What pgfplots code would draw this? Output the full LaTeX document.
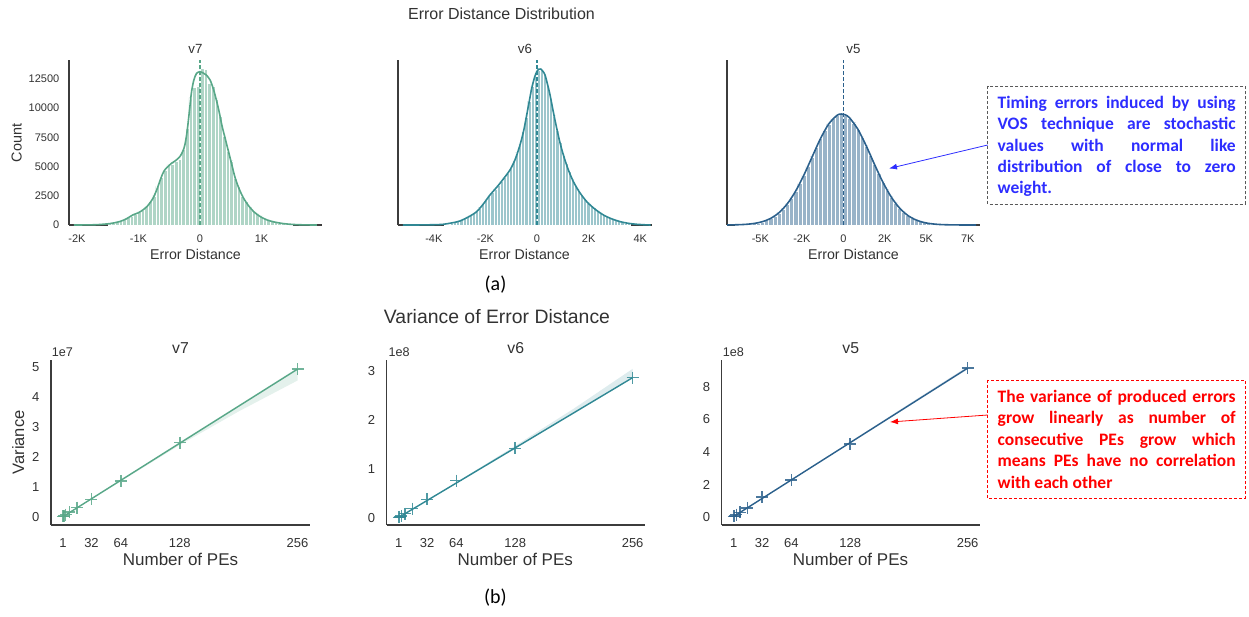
\documentclass[border=0pt]{standalone}
\usepackage{pgfplots}
\pgfplotsset{compat=1.18}
\usepackage{fontspec}
\setmainfont{Liberation Sans}
\newfontfamily\calibri{Carlito}
\usetikzlibrary{arrows.meta}
\definecolor{cSeven}{RGB}{88,167,136}
\definecolor{cSix}{RGB}{48,136,148}
\definecolor{cFive}{RGB}{43,96,140}
\definecolor{txt}{RGB}{50,50,50}
\definecolor{spine}{RGB}{60,60,60}
\definecolor{blueann}{RGB}{45,45,255}
\definecolor{redann}{RGB}{255,0,0}
\newcommand\fs[1]{\fontsize{#1}{#1}\selectfont}

\pgfplotsset{
  base/.style={
    scale only axis, anchor=south west, clip=false,
    axis lines*=left, axis line style={draw=spine, line width=1.4pt},
    tick style={draw=none}, major tick length=0pt,
    tick label style={text=txt, inner sep=0pt},
    scaled x ticks=false, scaled y ticks=false,
  },
  hist/.style={base, ymin=0, ymax=14124, height=165pt,
    xticklabel style={font=\fs{11}, anchor=north, yshift=-10pt},
    yticklabel style={font=\fs{11}, anchor=east, xshift=-9.5pt},
  },
  var/.style={base, height=165pt, xmin=-12, xmax=269.5,
    xtick={1,32,64,128,256}, xticklabels={1,32,64,128,256},
    xticklabel style={font=\fs{13}, anchor=north, yshift=-13pt},
    yticklabel style={font=\fs{13}, anchor=east, xshift=-11.5pt},
  },
  bars/.style={ybar interval, draw=white, line width=0.3pt, fill=#1!48!white},
  kde/.style={#1, line width=1.6pt, smooth, tension=0.5, mark=none},
  mean/.style={#1, line width=1.2pt, dash pattern=on 3.5pt off 2.5pt},
  pts/.style={only marks, mark=+, mark size=6pt, #1, line width=1.5pt, opacity=0.85},
  band/.style={fill=#1, fill opacity=0.16, draw=none},
  fit/.style={#1, line width=1.4pt, mark=none},
}

\begin{document}
\begin{tikzpicture}[x=1pt,y=1pt]
\path[use as bounding box] (0,0) rectangle (1249,616);

% ================= (a) Error distance distribution =================
\begin{axis}[hist, at={(69pt,391pt)}, width=253pt, xmin=-2130, xmax=1984,
  xtick={-2000,-1000,0,1000}, xticklabels={-2K,-1K,0,1K},
  ytick={0,2500,5000,7500,10000,12500}, yticklabels={0,2500,5000,7500,10000,12500}]
\addplot[bars=cSeven] coordinates {
(-1500,150) (-1440,200) (-1380,260) (-1320,340) (-1260,480) (-1200,650) (-1140,800) (-1080,960)
(-1020,1120) (-960,1300) (-900,1620) (-840,2050) (-780,2500) (-720,3300) (-660,4100) (-600,4700)
(-540,5150) (-480,5250) (-420,5450) (-360,5650) (-300,6500) (-240,8300) (-180,10900) (-120,11800)
(-60,11900) (0,13400) (60,13300) (120,12100) (180,11900) (240,10800) (300,9300) (360,7600)
(420,6300) (480,5500) (540,4000) (600,3300) (660,2500) (720,2000) (780,1600) (840,1150)
(900,950) (960,780) (1020,560) (1080,420) (1140,340) (1200,260) (1260,200) (1320,130)
(1380,90) (1440,60) (1500,0)};
\addplot[kde=cSeven] coordinates {
(-2050,0) (-1800,10) (-1639,40) (-1450,130) (-1311,285) (-1200,520) (-1093,856) (-1000,1050)
(-929,1284) (-850,1650) (-765,2283) (-700,3050) (-656,3710) (-610,4350) (-574,4708) (-520,5000)
(-464,5280) (-400,5500) (-328,5850) (-280,6300) (-246,6850) (-215,7800) (-191,8845) (-165,10100)
(-137,11410) (-100,12400) (-55,12985) (0,13120) (27,13070) (100,12850) (164,12412) (220,11600)
(273,10560) (315,9600) (355,8560) (410,7400) (464,6280) (520,5100) (574,4000) (640,3050)
(710,2283) (790,1650) (874,1140) (980,720) (1093,428) (1230,230) (1366,114) (1500,50)
(1700,10) (1900,0)};
\addplot[mean=cSeven] coordinates {(0,0) (0,14124)};
\end{axis}

\begin{axis}[hist, at={(398pt,391pt)}, width=254pt, xmin=-5388, xmax=4457,
  xtick={-4000,-2000,0,2000,4000}, xticklabels={-4K,-2K,0,2K,4K}, ytick=\empty]
\addplot[bars=cSix] coordinates {
(-3600,30) (-3480,90) (-3360,160) (-3240,240) (-3120,310) (-3000,400) (-2880,550) (-2760,700)
(-2640,850) (-2520,1000) (-2400,1150) (-2280,1480) (-2160,1810) (-2040,2140) (-1920,2470) (-1800,2790)
(-1680,3100) (-1560,3400) (-1440,3730) (-1320,4080) (-1200,4440) (-1080,4860) (-960,5510) (-840,6190)
(-720,6850) (-600,8040) (-480,9220) (-360,10600) (-240,11890) (-120,12770) (0,13230) (120,13240)
(240,12870) (360,11880) (480,10740) (600,9360) (720,8130) (840,7070) (960,6000) (1080,5300)
(1200,4590) (1320,3880) (1440,3410) (1560,3010) (1680,2620) (1800,2220) (1920,1910) (2040,1700)
(2160,1490) (2280,1280) (2400,1070) (2520,850) (2640,740) (2760,640) (2880,530) (3000,430)
(3120,320) (3240,260) (3360,190) (3480,140) (3600,0)};
\addplot[kde=cSix] coordinates {
(-5200,0) (-4500,5) (-3900,30) (-3638,60) (-3300,180) (-2990,342) (-2650,700) (-2342,1141)
(-2080,1800) (-1825,2568) (-1620,3080) (-1437,3566) (-1250,4100) (-1048,4708) (-850,5600) (-660,6848)
(-520,8050) (-400,9416) (-300,10600) (-206,11700) (-100,12600) (-12,13125) (60,13330) (143,13350)
(230,13150) (311,12840) (400,12100) (505,11130) (630,9700) (764,8275) (890,7050) (1022,5990)
(1200,4800) (1410,3710) (1650,2800) (1928,1997) (2250,1350) (2575,856) (2900,520) (3223,285)
(3550,140) (3871,60) (4200,15) (4400,0)};
\addplot[mean=cSix] coordinates {(0,0) (0,14124)};
\end{axis}

\begin{axis}[hist, at={(727pt,391pt)}, width=253pt, xmin=-7006, xmax=8235,
  xtick={-5000,-2500,0,2500,5000,7500}, xticklabels={-5K,-2K,0,2K,5K,7K}, ytick=\empty]
\addplot[bars=cFive] coordinates {
(-6500,22) (-6250,35) (-6000,55) (-5750,86) (-5500,130) (-5250,193) (-5000,282) (-4750,403)
(-4500,566) (-4250,780) (-4000,1054) (-3750,1397) (-3500,1817) (-3250,2313) (-3000,2894) (-2750,3551)
(-2500,4273) (-2250,5045) (-2000,5843) (-1750,6635) (-1500,7393) (-1250,8078) (-1000,8657) (-750,9104)
(-500,9390) (-250,9499) (0,9426) (250,9175) (500,8760) (750,8204) (1000,7537) (1250,6792)
(1500,6002) (1750,5204) (2000,4425) (2250,3692) (2500,3021) (2750,2424) (3000,1908) (3250,1473)
(3500,1116) (3750,829) (4000,604) (4250,432) (4500,303) (4750,208) (5000,141) (5250,93)
(5500,60) (5750,38) (6000,24) (6250,15) (6500,9) (6750,5) (7000,0)};
\addplot[kde=cFive] coordinates {
(-7000,3) (-6375,22) (-5875,55) (-5375,130) (-4875,282) (-4375,566) (-3875,1054) (-3375,1817)
(-2875,2894) (-2375,4273) (-1875,5843) (-1375,7393) (-875,8657) (-375,9390) (-125,9499) (125,9426)
(375,9175) (875,8204) (1375,6792) (1875,5204) (2375,3692) (2875,2424) (3375,1473) (3875,829)
(4375,432) (4875,208) (5375,93) (5875,38) (6375,15) (6875,5) (7500,1) (8000,0)};
\addplot[mean=cFive] coordinates {(0,0) (0,14124)};
\end{axis}

% titles / labels (a)
\node[anchor=base, text=txt, font=\fs{16}, inner sep=0] at (501.5,596.2) {Error Distance Distribution};
\node[anchor=base, text=txt, font=\fs{13.3}, inner sep=0] at (195.5,562.7) {v7};
\node[anchor=base, text=txt, font=\fs{13.3}, inner sep=0] at (525,562.7) {v6};
\node[anchor=base, text=txt, font=\fs{13.3}, inner sep=0] at (853.5,562.7) {v5};
\node[anchor=base, text=txt, font=\fs{14.2}, inner sep=0] at (195.5,356) {Error Distance};
\node[anchor=base, text=txt, font=\fs{14.2}, inner sep=0] at (524.5,356) {Error Distance};
\node[anchor=base, text=txt, font=\fs{14.2}, inner sep=0] at (853.5,356) {Error Distance};
\node[rotate=90, text=txt, font=\fs{14.4}, inner sep=0] at (16.7,473) {Count};
\node[font=\calibri\fs{20}, inner sep=0] at (495.5,331) {(a)};

% annotation box (a)
\draw[draw=black!65, line width=0.9pt, dash pattern=on 3pt off 2pt] (987.7,530) rectangle (1245,412);
\begin{scope}[every node/.style={anchor=base west, inner sep=0, text=blueann, font=\calibri\bfseries\fs{17.5}}]
\node at (997.5,507.7) {\hbox to 238pt{Timing\hfill errors\hfill induced\hfill by\hfill using}};
\node at (997.5,486.3) {\hbox to 238pt{VOS\hfill technique\hfill are\hfill stochastic}};
\node at (997.5,464.9) {\hbox to 238pt{values\hfill with\hfill normal\hfill like}};
\node at (997.5,443.5) {\hbox to 238pt{distribution\hfill of\hfill close\hfill to\hfill zero}};
\node at (997.5,422.1) {weight.};
\end{scope}
\draw[blueann, line width=0.8pt, -{Latex[length=8pt,width=6pt]}] (987.7,471) -- (889,447.5);

% ================= (b) Variance =================
\begin{axis}[var, at={(51pt,91pt)}, width=259pt, ymin=-0.267, ymax=5.233,
  ytick={0,1,2,3,4,5}, yticklabels={0,1,2,3,4,5}]
\addplot[band=cSeven] coordinates {(1,0.01) (64,1.24) (128,2.50) (192,3.73) (256,4.97)
  (256,4.55) (192,3.52) (128,2.40) (64,1.19) (1,0.0)};
\addplot[fit=cSeven] coordinates {(1,0.01) (256,4.93)};
\addplot[pts=cSeven] coordinates {(1,0.02) (2,0.04) (4,0.08) (8,0.16) (16,0.31) (32,0.59) (64,1.2) (128,2.48) (256,4.93)};
\end{axis}

\begin{axis}[var, at={(386.7pt,91pt)}, width=258.3pt, ymin=-0.143, ymax=3.22,
  ytick={0,1,2,3}, yticklabels={0,1,2,3}]
\addplot[band=cSix] coordinates {(1,0.02) (64,0.73) (128,1.47) (192,2.23) (256,3.04)
  (256,2.85) (192,2.13) (128,1.41) (64,0.70) (1,0.0)};
\addplot[fit=cSix] coordinates {(1,0.01) (256,2.86)};
\addplot[pts=cSix] coordinates {(1,0.011) (2,0.022) (4,0.045) (8,0.09) (16,0.19) (32,0.38) (64,0.76) (128,1.42) (256,2.86)};
\end{axis}

\begin{axis}[var, at={(721.7pt,91pt)}, width=258.3pt, ymin=-0.49, ymax=9.65,
  ytick={0,2,4,6,8}, yticklabels={0,2,4,6,8}]
\addplot[band=cFive] coordinates {(1,0.05) (64,2.32) (128,4.62) (192,6.95) (256,9.25)
  (256,9.08) (192,6.80) (128,4.52) (64,2.26) (1,0.0)};
\addplot[fit=cFive] coordinates {(1,0.03) (256,9.15)};
\addplot[pts=cFive] coordinates {(1,0.04) (2,0.07) (4,0.14) (8,0.29) (16,0.56) (32,1.22) (64,2.27) (128,4.5) (256,9.15)};
\end{axis}

% titles / labels (b)
\node[anchor=base, text=txt, font=\fs{19.4}, inner sep=0] at (497,292.1) {Variance of Error Distance};
\node[anchor=base, text=txt, font=\fs{15.8}, inner sep=0] at (180.5,262.7) {v7};
\node[anchor=base, text=txt, font=\fs{15.8}, inner sep=0] at (515.8,262.7) {v6};
\node[anchor=base, text=txt, font=\fs{15.8}, inner sep=0] at (850.8,262.7) {v5};
\node[anchor=base west, text=txt, font=\fs{12.6}, inner sep=0] at (51.7,259.3) {1e7};
\node[anchor=base west, text=txt, font=\fs{12.6}, inner sep=0] at (388.3,259.3) {1e8};
\node[anchor=base west, text=txt, font=\fs{12.6}, inner sep=0] at (722.7,259.3) {1e8};
\node[rotate=90, text=txt, font=\fs{16.5}, inner sep=0] at (18.3,173.5) {Variance};
\node[anchor=base, text=txt, font=\fs{17}, inner sep=0] at (180.5,50.5) {Number of PEs};
\node[anchor=base, text=txt, font=\fs{17}, inner sep=0] at (515.3,50.5) {Number of PEs};
\node[anchor=base, text=txt, font=\fs{17}, inner sep=0] at (850.5,50.5) {Number of PEs};
\node[font=\calibri\fs{20}, inner sep=0] at (495.5,18.5) {(b)};

% annotation box (b)
\draw[draw=redann, line width=0.9pt, dash pattern=on 3pt off 2pt] (987.7,236) rectangle (1245,117.7);
\begin{scope}[every node/.style={anchor=base west, inner sep=0, text=redann, font=\calibri\bfseries\fs{17.5}}]
\node at (997.5,213.7) {\hbox to 238pt{The\hfill variance\hfill of\hfill produced\hfill errors}};
\node at (997.5,192.2) {\hbox to 238pt{grow\hfill linearly\hfill as\hfill number\hfill of}};
\node at (997.5,170.7) {\hbox to 238pt{consecutive\hfill PEs\hfill grow\hfill which}};
\node at (997.5,149.2) {\hbox to 238pt{means\hfill PEs\hfill have\hfill no\hfill correlation}};
\node at (997.5,127.7) {with each other};
\end{scope}
\draw[redann, line width=0.8pt, -{Latex[length=8pt,width=6pt]}] (987.7,201) -- (890,194);
\end{tikzpicture}
\end{document}
